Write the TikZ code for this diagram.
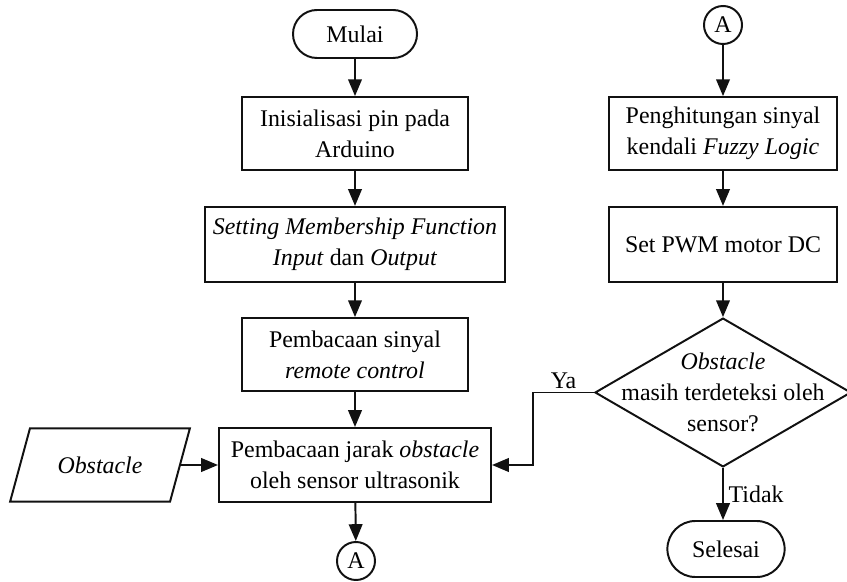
\documentclass[tikz,border=0pt]{standalone}
\usepackage{fontspec}
\setmainfont{Liberation Serif}
\usetikzlibrary{shapes.geometric,arrows.meta,positioning,calc}
\definecolor{inkline}{HTML}{111111}

\tikzset{
  proses/.style={draw=inkline, line width=1.4pt, align=center, inner sep=2pt},
  terminal/.style={draw=inkline, line width=1.4pt, rounded corners=0.6cm, minimum height=1.2cm},
  konektor/.style={draw=inkline, line width=1.4pt, circle, minimum size=0.95cm, inner sep=0pt},
  keputusan/.style={draw=inkline, line width=1.4pt, diamond, inner sep=0pt, minimum width=6.4cm, minimum height=3.72cm},
  masukan/.style={draw=inkline, line width=1.4pt, trapezium, trapezium left angle=63, trapezium right angle=117, trapezium stretches=true, minimum width=4.5cm, minimum height=1.83cm},
  alur/.style={draw=inkline, line width=1.4pt, -{Triangle[length=4.2mm,width=3.4mm]}}
}

\begin{document}
\begin{tikzpicture}[x=0.025cm, y=-0.025cm, font=\fontsize{17}{22}\selectfont]
\useasboundingbox (0,0) rectangle (847,582);
% kolom kiri
\node[terminal, minimum width=3.1cm] (mulai) at (355,34) {Mulai};
\node[proses, minimum width=5.65cm, minimum height=1.82cm] (init) at (355,133.5) {Inisialisasi pin pada\\Arduino};
\node[proses, minimum width=7.5cm, minimum height=1.88cm] (setmf) at (355,244.5) {\textit{Setting Membership Function}\\\textit{Input} dan \textit{Output}};
\node[proses, minimum width=5.65cm, minimum height=1.82cm] (remote) at (355,354.5) {Pembacaan sinyal\\\textit{remote control}};
\node[proses, minimum width=6.8cm, minimum height=1.85cm] (jarak) at (355,465) {Pembacaan jarak \textit{obstacle}\\oleh sensor ultrasonik};
\node[masukan] (obst) at (100,465) {\textit{Obstacle}};
\node[konektor] (a1) at (356,561) {A};
% kolom kanan
\node[konektor] (a2) at (723,25) {A};
\node[proses, minimum width=5.68cm, minimum height=1.82cm] (fuzzy) at (723,133.5) {Penghitungan sinyal\\kendali \textit{Fuzzy Logic}};
\node[proses, minimum width=5.68cm, minimum height=1.88cm] (pwm) at (723,244.5) {Set PWM motor DC};
\node[keputusan, label={[align=center]center:\textit{Obstacle}\\masih terdeteksi oleh\\sensor?}] (cek) at (723,392.5) {};
\node[terminal, minimum width=2.93cm, minimum height=1.4cm, rounded corners=0.7cm] (selesai) at (726,549) {Selesai};
\coordinate (belok) at (533,392.5);

\draw[alur] (mulai) -- (init);
\draw[alur] (init) -- (setmf);
\draw[alur] (setmf) -- (remote);
\draw[alur] (remote) -- (jarak);
\draw[alur] (jarak) -- (a1);
\draw[alur] (obst.east) -- (jarak.west);
\draw[alur] (a2) -- (fuzzy);
\draw[alur] (fuzzy) -- (pwm);
\draw[alur] (pwm) -- (cek);
\draw[alur] (cek.west) -- node[above=-1pt] {Ya} (belok) |- (jarak.east);
\draw[alur] (cek.south) -- node[right] {Tidak} (cek.south |- selesai.north);
\end{tikzpicture}
\end{document}
